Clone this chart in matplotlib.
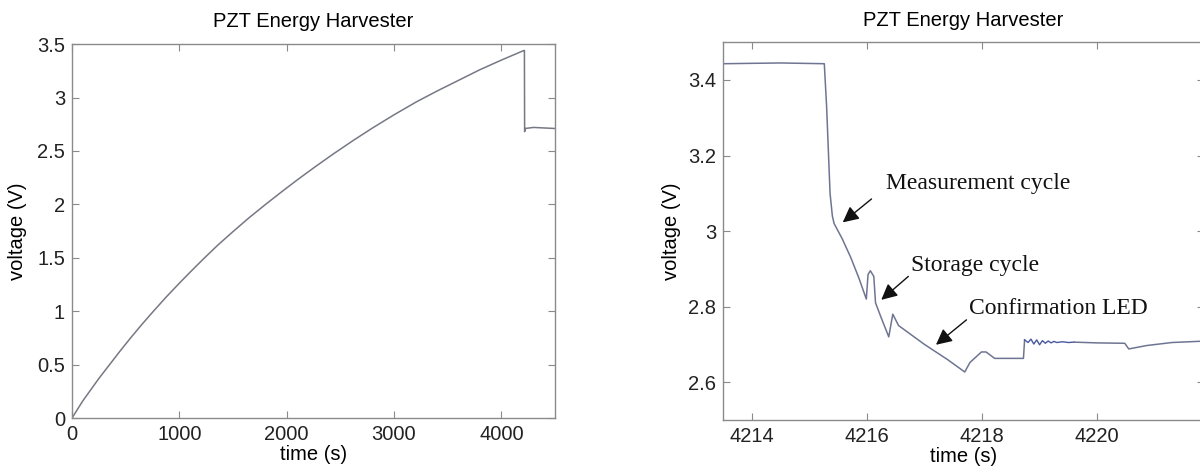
"""PZT energy harvester: storage-capacitor voltage, full charge and zoom on the discharge."""
import matplotlib
matplotlib.use("Agg")
import matplotlib.pyplot as plt

plt.rcParams.update({
    "font.family": ["Liberation Sans", "DejaVu Sans"],
    "font.size": 14.5,
    "axes.linewidth": 1.0,
    "axes.edgecolor": "#8a8a8a",
    "xtick.direction": "in",
    "ytick.direction": "in",
    "xtick.color": "#8a8a8a",
    "ytick.color": "#8a8a8a",
    "xtick.labelcolor": "#222222",
    "ytick.labelcolor": "#222222",
    "xtick.major.size": 5,
    "ytick.major.size": 5,
    "xtick.top": True,
    "ytick.right": True,
})

# ---- left panel: full charge curve ----
charge_t = [0, 50, 100, 150, 250, 350, 450, 550, 650, 750, 875, 1000, 1110,
            1220, 1360, 1500, 1650, 1810, 1950, 2100, 2270, 2435, 2620, 2800,
            3000, 3210, 3400, 3600, 3800, 4000, 4210, 4215, 4217, 4222, 4300, 4500]
charge_v = [0.0, 0.08, 0.16, 0.23, 0.37, 0.50, 0.63, 0.755, 0.875, 0.99, 1.13, 1.262, 1.375,
            1.485, 1.62, 1.745, 1.875, 2.005, 2.115, 2.23, 2.355, 2.472, 2.598, 2.715,
            2.838, 2.96, 3.06, 3.16, 3.26, 3.35, 3.44, 3.44, 2.68, 2.71, 2.72, 2.71]
charge_xticks = [0, 1000, 2000, 3000, 4000]
charge_yticks = [0, 0.5, 1, 1.5, 2, 2.5, 3, 3.5]
charge_ylabels = ["0", "0.5", "1", "1.5", "2", "2.5", "3", "3.5"]

# ---- right panel: zoom on the discharge events ----
zoom_t = [4213.50, 4214.5, 4215.26, 4215.30, 4215.36, 4215.40, 4215.43, 4215.57,
          4215.66, 4215.72, 4215.86, 4215.99, 4216.02, 4216.06, 4216.12, 4216.15,
          4216.25, 4216.38, 4216.45, 4216.55, 4217.00, 4217.40, 4217.70, 4217.79,
          4217.99, 4218.07, 4218.22, 4218.72, 4218.74]
zoom_v = [3.443, 3.445, 3.443, 3.33, 3.10, 3.04, 3.02, 2.98,
          2.95, 2.93, 2.876, 2.82, 2.885, 2.895, 2.88, 2.81,
          2.77, 2.72, 2.78, 2.75, 2.70, 2.66, 2.627, 2.652,
          2.68, 2.68, 2.663, 2.663, 2.712]
# noisy stretch after the LED fires (darker, bluer trace)
noise_t = [4218.74, 4218.80, 4218.85, 4218.90, 4218.95, 4219.00, 4219.05, 4219.10,
           4219.15, 4219.20, 4219.25, 4219.30, 4219.40, 4219.50, 4219.60]
noise_v = [2.712, 2.705, 2.714, 2.701, 2.712, 2.699, 2.710, 2.703,
           2.709, 2.704, 2.708, 2.705, 2.707, 2.705, 2.706]
tail_t = [4219.60, 4220.00, 4220.48, 4220.55, 4220.86, 4221.30, 4221.90]
tail_v = [2.706, 2.704, 2.703, 2.688, 2.697, 2.705, 2.709]
zoom_xticks = [4214, 4216, 4218, 4220]
zoom_yticks = [2.6, 2.8, 3.0, 3.2, 3.4]
zoom_ylabels = ["2.6", "2.8", "3", "3.2", "3.4"]

# annotation text position, arrow tail, arrow tip
notes = ["Measurement cycle", "Storage cycle", "Confirmation LED"]
note_xy = [(4216.34, 3.125), (4216.77, 2.910), (4217.78, 2.795)]
arrow_tail = [(4216.08, 3.085), (4216.72, 2.880), (4217.73, 2.765)]
arrow_tip = [(4215.58, 3.023), (4216.25, 2.818), (4217.20, 2.699)]

LINE = "#767884"
LINE_R = "#6e7592"
NOISE = "#4a58a0"

fig = plt.figure(figsize=(12, 4.74), dpi=100)
ax1 = fig.add_axes([0.06, 0.118, 0.4025, 0.789])
ax2 = fig.add_axes([0.6025, 0.114, 0.4005, 0.797])

ax1.plot(charge_t, charge_v, color=LINE, lw=1.1)
ax1.set_xlim(0, 4500)
ax1.set_ylim(0, 3.5)
ax1.set_xticks(charge_xticks)
ax1.set_yticks(charge_yticks)
ax1.set_yticklabels(charge_ylabels)
ax1.set_xlabel("time (s)", labelpad=1)
ax1.set_ylabel("voltage (V)", labelpad=7)
ax1.set_title("PZT Energy Harvester", fontsize=14.5, pad=12)

ax2.plot(zoom_t, zoom_v, color=LINE_R, lw=1.1)
ax2.plot(noise_t, noise_v, color=NOISE, lw=1.0)
ax2.plot(tail_t, tail_v, color=LINE_R, lw=1.1)
ax2.set_xlim(4213.5, 4221.85)
ax2.set_ylim(2.5, 3.5)
ax2.set_xticks(zoom_xticks)
ax2.set_yticks(zoom_yticks)
ax2.set_yticklabels(zoom_ylabels)
ax2.set_xlabel("time (s)", labelpad=1)
ax2.set_ylabel("voltage (V)", labelpad=5)
ax2.set_title("PZT Energy Harvester", fontsize=14.5, pad=12)

for label, txy, tail, tip in zip(notes, note_xy, arrow_tail, arrow_tip):
    ax2.text(txy[0], txy[1], label, family=["Liberation Serif", "DejaVu Serif"],
             fontsize=17, va="center", ha="left", color="#111111")
    ax2.annotate("", xy=tip, xytext=tail,
                 arrowprops=dict(arrowstyle="-|>", color="#111111", lw=1.0,
                                 mutation_scale=24, shrinkA=0, shrinkB=0))

for ax in (ax1, ax2):
    ax.tick_params(pad=5)

fig.savefig("out.png", dpi=100)
